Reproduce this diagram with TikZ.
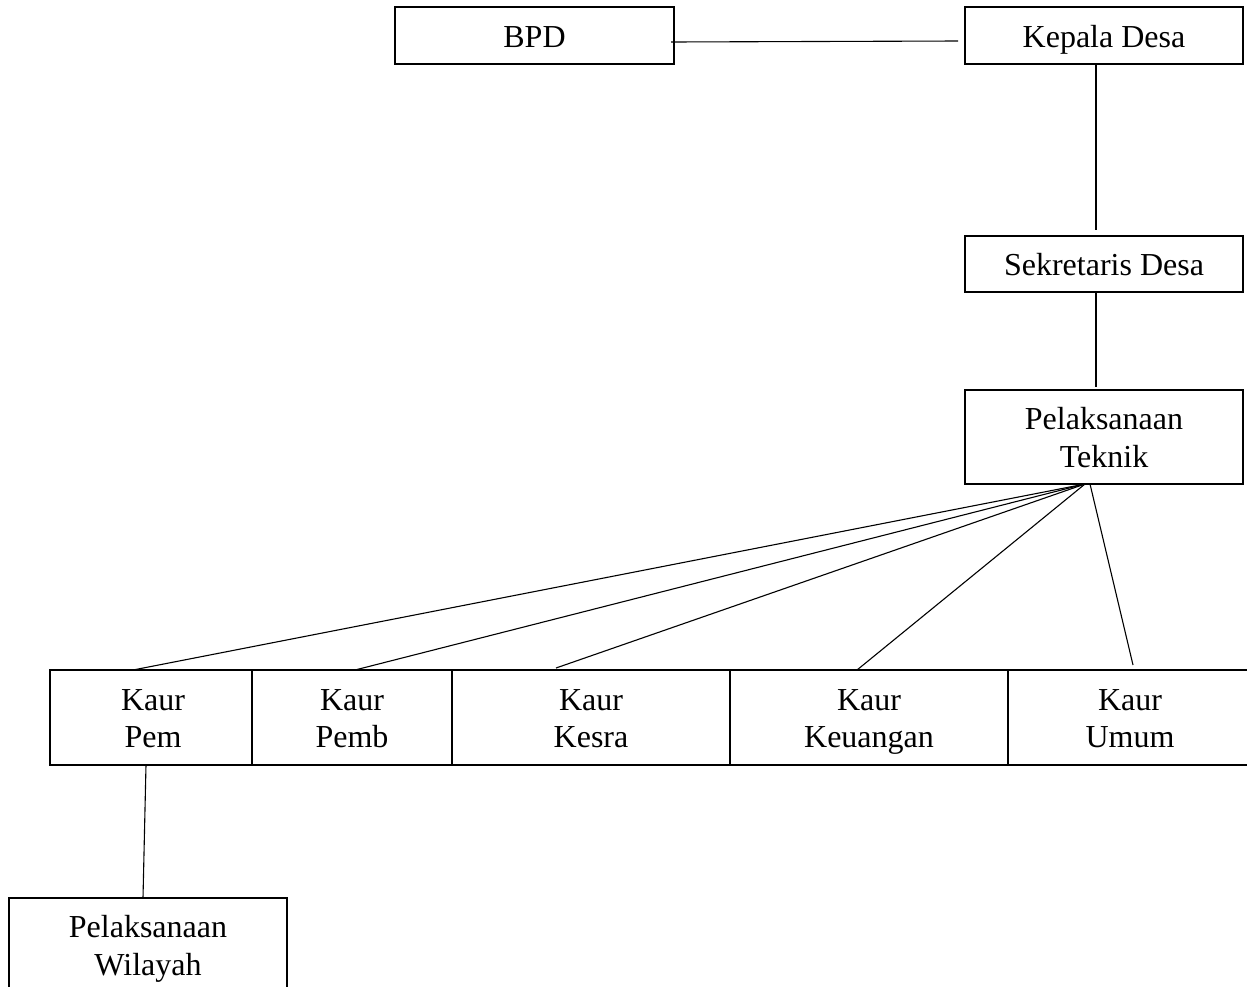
\documentclass[tikz,border=0pt]{standalone}
\usepackage{fontspec}
\setmainfont{Liberation Serif}
\usetikzlibrary{calc}
\newcommand\mystrut{\rule[-7pt]{0pt}{37pt}}
\begin{document}
\begin{tikzpicture}[x=1pt,y=-1pt,
  lbl/.style={inner sep=0pt,align=center,font=\fontsize{32}{37.5}\selectfont},
  box/.style={draw,line width=1.2pt,inner sep=0pt,align=center,font=\fontsize{32}{37.5}\selectfont},
  rule/.style={line width=1.2pt},
  conn/.style={line width=1.1pt}]
\useasboundingbox (0,0) rectangle (1247,986);
% top boxes
\node[box,minimum width=279pt,minimum height=57pt] (bpd) at (534.5,35.5) {\mystrut BPD};
\node[box,minimum width=278pt,minimum height=57pt] (kd) at (1104,35.5) {\mystrut Kepala Desa};
\node[box,minimum width=278pt,minimum height=56pt] (sd) at (1104,264) {\mystrut Sekretaris Desa};
\node[box,minimum width=278pt,minimum height=94pt] (pt) at (1104,437) {\mystrut Pelaksanaan\\\mystrut Teknik};
% kaur row
\node[lbl,minimum width=202pt,minimum height=95pt] (kpem) at (153,717.5) {\mystrut Kaur\\\mystrut Pem};
\node[lbl,minimum width=200pt,minimum height=95pt] (kpemb) at (352,717.5) {\mystrut Kaur\\\mystrut Pemb};
\node[lbl,minimum width=278pt,minimum height=95pt] (kkes) at (591,717.5) {\mystrut Kaur\\\mystrut Kesra};
\node[lbl,minimum width=278pt,minimum height=95pt] (kkeu) at (869,717.5) {\mystrut Kaur\\\mystrut Keuangan};
\node[lbl,minimum width=239pt,minimum height=95pt] (kum) at (1130,717.5) {\mystrut Kaur\\\mystrut Umum};
\draw[rule] (1247,670) -- (50,670) -- (50,765) -- (1247,765);
\draw[rule] (252,670) -- (252,765);
\draw[rule] (452,670) -- (452,765);
\draw[rule] (730,670) -- (730,765);
\draw[rule] (1008,670) -- (1008,765);
% pelaksanaan wilayah
\node[lbl] (pw) at (148,945) {\mystrut Pelaksanaan\\\mystrut Wilayah};
\draw[rule] (9,990) -- (9,898) -- (287,898) -- (287,990);
% connectors
\coordinate (bpdR) at (671,42);
\coordinate (kdL) at (958,41);
\draw[conn] (bpdR) -- (kdL);
\draw[conn] (kd.south -| 1096,0) -- (1096,230);
\draw[conn] (sd.south -| 1096,0) -- (1096,387);
\coordinate (t1) at (1085,484);
\coordinate (t2) at (1090,484);
\coordinate (e1) at (133,670);
\coordinate (e2) at (355,670);
\coordinate (e3) at (556,668);
\coordinate (e4) at (857,670);
\coordinate (e5) at (1133,665);
\draw[conn] (t1) -- (e1);
\draw[conn] (t1) -- (e2);
\draw[conn] (t1) -- (e3);
\draw[conn] (t1) -- (e4);
\draw[conn] (t2) -- (e5);
\coordinate (pemB) at (146,765);
\coordinate (pwT) at (143,898);
\draw[conn] (pemB) -- (pwT);
\end{tikzpicture}
\end{document}
